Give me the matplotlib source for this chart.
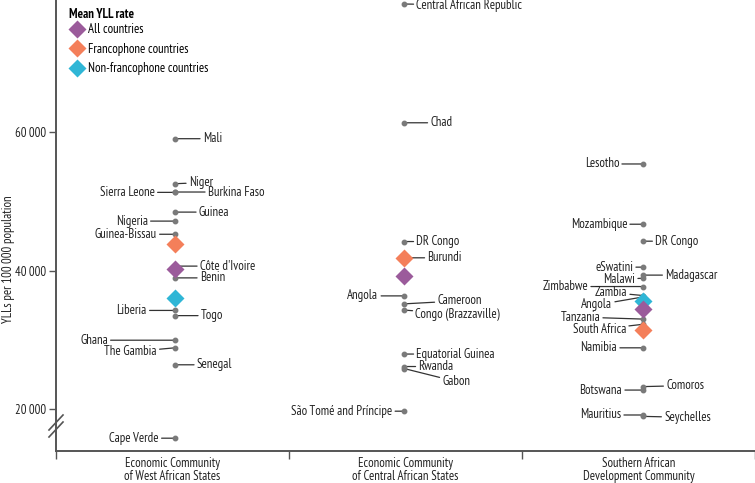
import matplotlib
matplotlib.use("Agg")
import matplotlib.pyplot as plt
from matplotlib.lines import Line2D
from matplotlib.ticker import FuncFormatter

plt.rcParams['font.family'] = ['PT Sans Narrow', 'Roboto Condensed', 'Archivo Narrow', 'DejaVu Sans']

# --- data (YLLs per 100 000 population) ---
groups = ["Economic Community\nof West African States",
          "Economic Community\nof Central African States",
          "Southern African\nDevelopment Community"]

ecowas_names = ["Mali", "Niger", "Burkina Faso", "Sierra Leone", "Guinea", "Nigeria",
                "Guinea-Bissau", "Côte d'Ivoire", "Benin", "Liberia", "Togo", "Ghana",
                "The Gambia", "Senegal", "Cape Verde"]
ecowas_vals = [59100, 52600, 51400, 51350, 48500, 47200, 45300, 40700, 39000, 34300,
               33550, 30000, 28900, 26450, 15850]

eccas_names = ["Central African Republic", "Chad", "DR Congo", "Burundi", "Angola",
               "Cameroon", "Congo (Brazzaville)", "Equatorial Guinea", "Rwanda", "Gabon",
               "São Tomé and Príncipe"]
eccas_vals = [78550, 61400, 44250, 41900, 36400, 35250, 34350, 28000, 26200, 25900, 19750]

sadc_names = ["Lesotho", "Mozambique", "DR Congo", "eSwatini", "Madagascar", "Malawi",
              "Zimbabwe", "Zambia", "Angola", "Tanzania", "South Africa", "Namibia",
              "Comoros", "Botswana", "Mauritius", "Seychelles"]
sadc_vals = [55450, 46750, 44300, 40550, 39400, 38950, 37750, 36450, 36250, 33050, 32300,
             28900, 23300, 22800, 19200, 19000]

# mean YLL rate per group: all, francophone, non-francophone (None = not shown)
mean_all = [40300, 39250, 34500]
mean_franco = [43900, 41900, 31450]
mean_nonfranco = [36050, None, 35700]

# --- layout ---
group_x = [0.51, 1.495, 2.52]

# label offsets in pixels (dx, dy) from each dot
label_pos = [
    {"Mali": (28, 0), "Niger": (14, 1), "Burkina Faso": (33, 0), "Sierra Leone": (-20, 0),
     "Guinea": (24, 0), "Nigeria": (-27, 0), "Guinea-Bissau": (-18, 0),
     "Côte d'Ivoire": (25, 0), "Benin": (25, 0), "Liberia": (-28, 0), "Togo": (26, 0),
     "Ghana": (-67, 0), "The Gambia": (-18, -4), "Senegal": (22, 0), "Cape Verde": (-16, 0)},
    {"Central African Republic": (12, -1), "Chad": (26, 0), "DR Congo": (12, 0),
     "Burundi": (23, 0), "Angola": (-26, 0), "Cameroon": (33, 3),
     "Congo (Brazzaville)": (11, -4), "Equatorial Guinea": (12, 0), "Rwanda": (14, 0),
     "Gabon": (38, -13), "São Tomé and Príncipe": (-12, 0)},
    {"Lesotho": (-24, 0), "Mozambique": (-16, 0), "DR Congo": (12, 0), "eSwatini": (-10, 0),
     "Madagascar": (22, 0), "Malawi": (-8, -1), "Zimbabwe": (-55, 0), "Zambia": (-16, 3),
     "Angola": (-31, -8), "Tanzania": (-43, 2), "South Africa": (-17, -5),
     "Namibia": (-26, 0), "Comoros": (23, 1), "Botswana": (-21, 0), "Mauritius": (-22, 0),
     "Seychelles": (21, -1)},
]

c_all = "#9b5b9b"
c_franco = "#f47f5a"
c_nonfranco = "#2fb6d6"
c_text = "#222222"
c_axis = "#555555"
fs = 9.2

fig = plt.figure(figsize=(7.55, 4.83), dpi=100)
ax = fig.add_axes([56 / 755, 32 / 483, 699 / 755, 451 / 483])

all_names = [ecowas_names, eccas_names, sadc_names]
all_vals = [ecowas_vals, eccas_vals, sadc_vals]

for gi in range(3):
    gx = group_x[gi]
    for name, v in zip(all_names[gi], all_vals[gi]):
        dx, dy = label_pos[gi][name]
        ax.plot(gx, v, "o", ms=3.2, color="#7a7a7a", zorder=4)
        ax.annotate(name, xy=(gx, v), xytext=(dx, dy), textcoords="offset pixels",
                    ha="left" if dx > 0 else "right", va="center", fontsize=fs,
                    color=c_text,
                    arrowprops=dict(arrowstyle="-", color="#333333", lw=0.9,
                                    shrinkA=0, shrinkB=0))
    for vals, col in [(mean_franco, c_franco), (mean_nonfranco, c_nonfranco), (mean_all, c_all)]:
        if vals[gi] is not None:
            ax.plot(gx, vals[gi], "D", ms=9, color=col, mec="none", zorder=5)

ax.set_xlim(0, 3)
ax.set_ylim(14000, 79130)

for s in ["top", "right"]:
    ax.spines[s].set_visible(False)
for s in ["left", "bottom"]:
    ax.spines[s].set_color(c_axis)
    ax.spines[s].set_linewidth(1.4)

ax.set_yticks([20000, 40000, 60000])
ax.yaxis.set_major_formatter(FuncFormatter(lambda v, p: f"{int(v):,}".replace(",", "\u2009")))
ax.tick_params(axis="y", length=5, width=1, color=c_axis, labelsize=fs, labelcolor=c_text, pad=2)
ax.set_xticks([0, 1, 2, 3])
ax.set_xticklabels([])
ax.tick_params(axis="x", which="major", length=6, width=1, color=c_axis)
ax.set_xticks([0.5, 1.5, 2.5], minor=True)
ax.set_xticklabels(groups, minor=True, fontsize=fs, color=c_text, linespacing=1.05)
ax.tick_params(axis="x", which="minor", length=0, pad=4)

ax.set_ylabel("YLLs per 100\u2009000 population", fontsize=fs, color=c_text)
ax.yaxis.set_label_coords(-0.058, 0.425)

# axis break marks
for off in [0, 7]:
    ax.plot([-7 / 699, 7 / 699], [(14 + off) / 451, (29 + off) / 451],
            transform=ax.transAxes, color=c_axis, lw=1.2, clip_on=False)

handles = [Line2D([], [], marker="D", ls="", ms=9, color=c, mec="none")
           for c in [c_all, c_franco, c_nonfranco]]
leg = ax.legend(handles, ["All countries", "Francophone countries", "Non-francophone countries"],
                title="Mean YLL rate", loc="upper left", bbox_to_anchor=(0.004, 1.006),
                frameon=False, fontsize=fs, handletextpad=0.25, labelspacing=0.5,
                handlelength=1.2, alignment="left", borderpad=0.3,
                title_fontproperties={"weight": "bold", "size": fs})
leg._legend_box.sep = 2

fig.savefig("out.png", dpi=100)
